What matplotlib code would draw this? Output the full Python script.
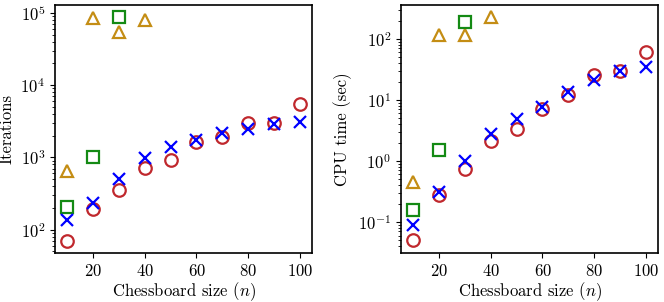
import matplotlib
matplotlib.use("Agg")
import matplotlib.pyplot as plt

plt.rcParams['font.family'] = 'serif'
plt.rcParams['font.serif'] = ['cmr10']
plt.rcParams['mathtext.fontset'] = 'cm'
plt.rcParams['axes.formatter.use_mathtext'] = True
plt.rcParams['font.size'] = 12

n_all = [10, 20, 30, 40, 50, 60, 70, 80, 90, 100]
n_sq = [10, 20, 30]
n_tri = [10, 20, 30, 40]

# Iterations
iter_circle = [70, 193, 354, 720, 930, 1630, 1910, 2990, 3000, 5530]
iter_cross = [136, 232, 498, 980, 1370, 1720, 2190, 2490, 2920, 3080]
iter_square = [208, 1010, 86000]
iter_tri = [640, 84000, 54000, 80000]

# CPU time (sec)
cpu_circle = [0.05, 0.28, 0.74, 2.1, 3.35, 7.1, 11.9, 25.3, 29.4, 60]
cpu_cross = [0.088, 0.305, 1.0, 2.77, 4.9, 7.7, 13.5, 21.5, 29.4, 34.2]
cpu_square = [0.159, 1.49, 187]
cpu_tri = [0.45, 118, 115, 230]

red = '#c0282d'
blue = '#0000ff'
green = '#148a14'
orange = '#c48d14'

fig = plt.figure(figsize=(6.64, 3.02), dpi=100)
ax1 = fig.add_axes([55/664, 49/302, 257/664, 248/302])
ax2 = fig.add_axes([401/664, 49/302, 257/664, 248/302])

ms = 9
mew = 1.6

def draw(ax, circ, cross, sq, tri):
    ax.plot(n_tri, tri, linestyle='none', marker='^', ms=ms, mfc='none', mec=orange, mew=mew)
    ax.plot(n_sq, sq, linestyle='none', marker='s', ms=ms, mfc='none', mec=green, mew=mew)
    ax.plot(n_all, circ, linestyle='none', marker='o', ms=ms, mfc='none', mec=red, mew=mew)
    ax.plot(n_all, cross, linestyle='none', marker='x', ms=ms, mec=blue, mew=mew)
    ax.set_yscale('log')
    ax.set_xlim(5.5, 104.5)
    ax.set_xticks([20, 40, 60, 80, 100])
    ax.set_xlabel('Chessboard size ($n$)', labelpad=1)
    for s in ax.spines.values():
        s.set_linewidth(1.2)

draw(ax1, iter_circle, iter_cross, iter_square, iter_tri)
ax1.set_ylim(47.6, 1.28e5)
ax1.set_ylabel('Iterations')

draw(ax2, cpu_circle, cpu_cross, cpu_square, cpu_tri)
ax2.set_ylim(0.031, 360)
ax2.set_ylabel('CPU time (sec)')

fig.savefig('out.png', dpi=100)
